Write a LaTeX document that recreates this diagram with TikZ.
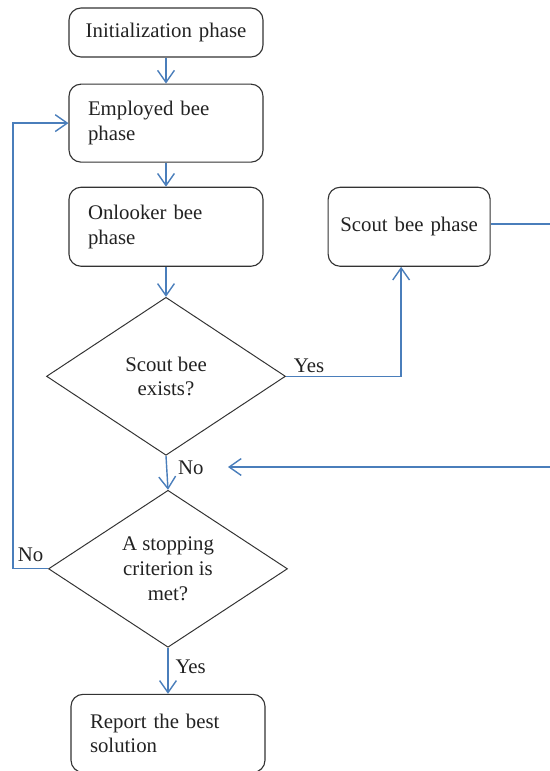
\documentclass[tikz,border=0pt]{standalone}
\usepackage{fontspec}
\setmainfont{Liberation Serif}
\usetikzlibrary{arrows.meta,positioning,shapes.geometric,calc}
\definecolor{LineBlue}{HTML}{4A7EBB}
\definecolor{BoxGrey}{HTML}{333333}
\definecolor{TextGrey}{HTML}{222222}

\begin{document}
\begin{tikzpicture}[
    font=\fontsize{14.8}{17.5}\selectfont, text=TextGrey,
    phase/.style={rectangle, rounded corners=0.3cm, draw=BoxGrey, line width=0.8pt, minimum width=4.85cm, minimum height=1.95cm, text width=3.9cm, inner xsep=0.475cm, align=left},
    decision/.style={diamond, draw=BoxGrey, line width=0.7pt, minimum width=5.975cm, minimum height=3.95cm, inner sep=0pt, align=center},
    arrow/.style={-{Straight Barb[length=3mm, width=4.2mm]}, line width=1pt, LineBlue},
    link/.style={line width=1pt, LineBlue},
    lbl/.style={inner sep=2pt, text=TextGrey},
]
    \useasboundingbox (0,0) rectangle (13.75,-19.275);

    \node[phase, minimum height=1.225cm, text width=4.2cm, inner xsep=0.325cm, align=center] (init) at (4.15,-0.8125) {Initialization phase};
    \node[phase, below=0.65cm of init] (employed) {Employed bee\\phase};
    \node[phase, minimum height=1.975cm, below=0.6cm of employed] (onlooker) {Onlooker bee\\phase};
    \node[phase, minimum width=4.05cm, minimum height=1.975cm, text width=3.5cm, inner xsep=0.275cm, align=center, right=1.6cm of onlooker] (scout) {Scout bee phase};
    \node[decision, below=0.75cm of onlooker] (exists) {Scout bee\\exists?};
    \node[decision, minimum height=3.925cm, below=0.85cm of exists, xshift=0.05cm] (stopcrit) {A stopping\\criterion is\\met?};
    \node[phase, minimum height=1.95cm, below=1.15cm of stopcrit] (report) {Report the best\\solution};

    % loose ends at the right margin
    \coordinate (scoutout) at (13.75,-5.6) ;
    \coordinate (backin) at (13.75,-11.675);
    \coordinate (backend) at (5.7,-11.675);

    \draw[arrow] (init) -- (employed);
    \draw[arrow] (employed) -- (onlooker);
    \draw[arrow] (onlooker) -- (exists);
    \draw[arrow] (exists.east) -| node[lbl, pos=0.1, above] {Yes} ([xshift=-0.2cm]scout.south);
    \draw[arrow] (exists.south) -- node[lbl, pos=0.34, right, xshift=0.2cm] {No} (stopcrit.north);
    \draw[arrow] (stopcrit.west) -- node[lbl, pos=0.5, above, yshift=0.1cm] {No} ++(-0.875,0) |- (employed.west);
    \draw[arrow] (stopcrit.south) -- node[lbl, pos=0.41, right, xshift=0.1cm] {Yes} (report.north);
    \draw[link] (scout.east |- scoutout) -- (scoutout);
    \draw[arrow] (backin) -- (backend);
\end{tikzpicture}
\end{document}
